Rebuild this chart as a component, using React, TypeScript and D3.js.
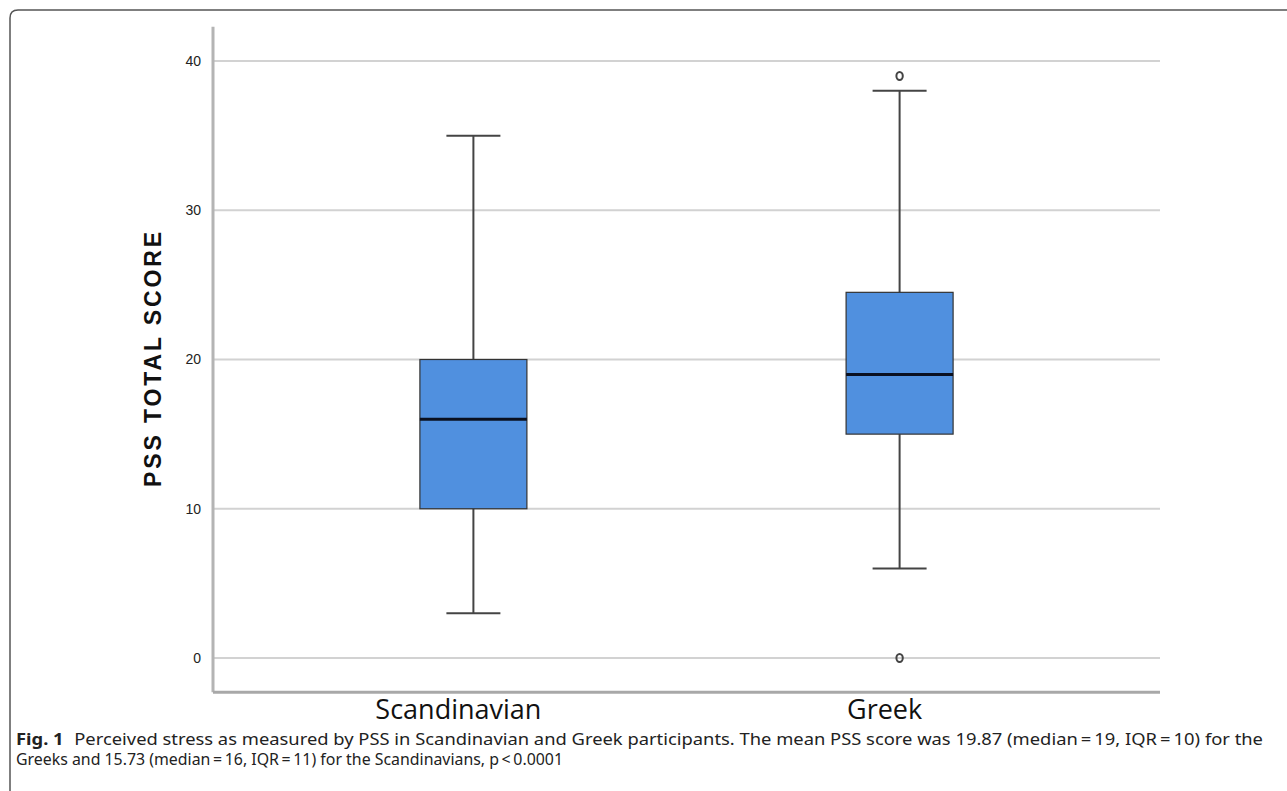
import React from "react";
import { scaleLinear, scalePoint } from "d3";

// groups and box statistics
const groups = ["Scandinavian", "Greek"];
const whiskerLow = [3, 6];
const q1 = [10, 15];
const medians = [16, 19];
const q3 = [20, 24.5];
const whiskerHigh = [35, 38];
const outliers = [[], [39, 0]];
const yTicks = [0, 10, 20, 30, 40];

const captionLine1 =
  "Perceived stress as measured by PSS in Scandinavian and Greek participants. The mean PSS score was 19.87 (median\u2009=\u200919, IQR\u2009=\u200910) for the";
const captionLine2 =
  "Greeks and 15.73 (median\u2009=\u200916, IQR\u2009=\u200911) for the Scandinavians, p\u2009<\u20090.0001";

const W = 1287;
const H = 791;

//chart component
const App = () => {
  //scales
  const yScale = scaleLinear().domain([0, 40]).range([658, 61]);
  const xScale = scalePoint<string>().domain(groups).range([213, 1160]).padding(0.611);

  const boxW = 107;
  const capW = 54;
  const axisLeftX = 213;
  const axisRightX = 1160;
  const axisTop = yScale(42.3);
  const axisBottomY = yScale(-2.3);

  return (
    <svg
      width={W}
      height={H}
      style={{ position: "absolute", left: 0, top: 0, background: "#fff" }}
    >
      {/* figure frame */}
      <path
        d={`M10,${H} L10,18 Q10,10 18,10 L${W},10`}
        fill="none"
        stroke="#555"
        strokeWidth={1.5}
      />

      {/* gridlines */}
      {yTicks.map((t) => (
        <line
          key={"g" + t}
          x1={axisLeftX}
          x2={axisRightX}
          y1={yScale(t)}
          y2={yScale(t)}
          stroke="#d2d2d2"
          strokeWidth={2}
        />
      ))}

      {/* axes */}
      <line x1={axisLeftX} x2={axisLeftX} y1={axisTop} y2={axisBottomY} stroke="#b4b4b4" strokeWidth={3} />
      <line x1={axisLeftX} x2={axisRightX} y1={axisBottomY} y2={axisBottomY} stroke="#a8a8a8" strokeWidth={3} />

      {/* y tick labels */}
      {yTicks.map((t) => (
        <text
          key={"t" + t}
          x={201}
          y={yScale(t)}
          dy="0.35em"
          textAnchor="end"
          fontFamily="'Liberation Sans', Arial, sans-serif"
          fontSize={14}
          fill="#222"
        >
          {t}
        </text>
      ))}

      {/* y axis title */}
      <text
        transform={`translate(161,${(yScale(0) + yScale(40)) / 2}) rotate(-90)`}
        textAnchor="middle"
        fontFamily="'Liberation Sans', Arial, sans-serif"
        fontWeight="bold"
        fontSize={23}
        textLength={255}
        lengthAdjust="spacing"
        fill="#111"
      >
        PSS TOTAL SCORE
      </text>

      {/* boxes */}
      {groups.map((g, i) => {
        const cx = xScale(g) as number;
        return (
          <g key={g}>
            <line x1={cx} x2={cx} y1={yScale(whiskerHigh[i])} y2={yScale(q3[i])} stroke="#444" strokeWidth={2} />
            <line x1={cx} x2={cx} y1={yScale(q1[i])} y2={yScale(whiskerLow[i])} stroke="#444" strokeWidth={2} />
            <line x1={cx - capW / 2} x2={cx + capW / 2} y1={yScale(whiskerHigh[i])} y2={yScale(whiskerHigh[i])} stroke="#444" strokeWidth={2} />
            <line x1={cx - capW / 2} x2={cx + capW / 2} y1={yScale(whiskerLow[i])} y2={yScale(whiskerLow[i])} stroke="#444" strokeWidth={2} />
            <rect
              x={cx - boxW / 2}
              y={yScale(q3[i])}
              width={boxW}
              height={yScale(q1[i]) - yScale(q3[i])}
              fill="#5090df"
              stroke="#333"
              strokeWidth={1.2}
            />
            <line x1={cx - boxW / 2} x2={cx + boxW / 2} y1={yScale(medians[i])} y2={yScale(medians[i])} stroke="#0a1020" strokeWidth={3} />
            {outliers[i].map((o, j) => (
              <ellipse key={j} cx={cx} cy={yScale(o)} rx={3.2} ry={4} fill="none" stroke="#444" strokeWidth={2} />
            ))}
            <text
              x={cx - 15}
              y={719}
              textAnchor="middle"
              fontFamily="'Open Sans', 'Noto Sans', sans-serif"
              fontSize={27}
              fontWeight={500}
              fill="#111"
            >
              {g}
            </text>
          </g>
        );
      })}

      {/* caption */}
      <text
        x={16}
        y={745}
        fontFamily="'Noto Sans', sans-serif"
        fontSize={15.5}
        fill="#222"
        textLength={1247}
        lengthAdjust="spacingAndGlyphs"
      >
        <tspan fontWeight="bold">Fig. 1</tspan>
        <tspan dx={9}>{captionLine1}</tspan>
      </text>
      <text
        x={16}
        y={765}
        fontFamily="'Noto Sans', sans-serif"
        fontSize={15.5}
        fill="#222"
        textLength={547}
        lengthAdjust="spacingAndGlyphs"
      >
        {captionLine2}
      </text>
    </svg>
  );
};

export default App;
